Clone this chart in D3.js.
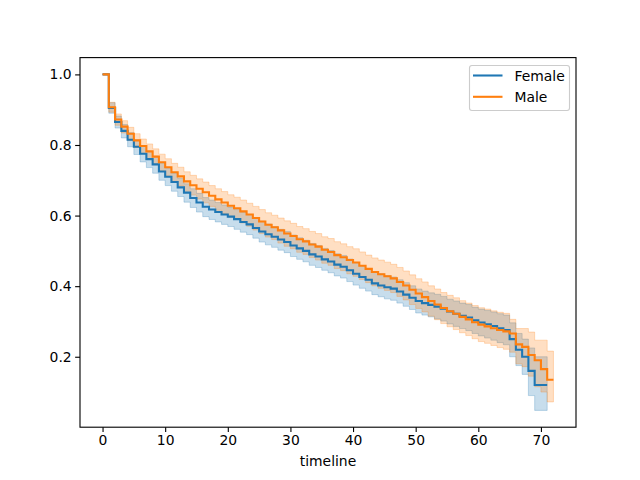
<!DOCTYPE html>
<html>
<head>
<meta charset="utf-8">
<script src="https://cdn.jsdelivr.net/npm/d3@7"></script>
<style>
  body { margin: 0; background: #fff; }
  text { font-family: "DejaVu Sans", sans-serif; }
</style>
</head>
<body>
<div id="chart-container"></div>
<script>
// Kaplan-Meier estimates
const femaleTimes = [0,1,2,3,4,5,6,7,8,9,10,11,12,13,14,15,16,17,18,19,20,21,22,23,24,25,26,27,28,29,30,31,32,33,34,35,36,37,38,39,40,41,42,43,44,45,46,47,48,49,50,51,52,53,54,55,56,57,58,59,60,61,62,63,64,65,66,67,68,69,70,71];
const femaleSurv = [1.0,0.905,0.865,0.84,0.815,0.795,0.775,0.76,0.745,0.725,0.71,0.695,0.68,0.665,0.65,0.637,0.625,0.617,0.61,0.603,0.597,0.59,0.582,0.575,0.565,0.555,0.547,0.54,0.532,0.525,0.515,0.507,0.5,0.49,0.484,0.476,0.47,0.461,0.455,0.445,0.435,0.426,0.418,0.408,0.402,0.397,0.393,0.385,0.376,0.367,0.358,0.352,0.347,0.342,0.336,0.328,0.322,0.316,0.311,0.303,0.297,0.292,0.287,0.281,0.276,0.25,0.22,0.2,0.16,0.12,0.12,0.12];
const femaleLower = [1.0,0.89,0.848,0.82,0.795,0.773,0.752,0.736,0.72,0.70,0.685,0.669,0.654,0.638,0.623,0.61,0.597,0.589,0.582,0.575,0.569,0.561,0.553,0.546,0.536,0.525,0.517,0.51,0.502,0.495,0.484,0.476,0.469,0.459,0.453,0.445,0.438,0.429,0.423,0.413,0.403,0.394,0.386,0.376,0.37,0.364,0.36,0.352,0.343,0.334,0.324,0.318,0.313,0.307,0.301,0.293,0.286,0.28,0.274,0.266,0.259,0.253,0.247,0.24,0.234,0.2,0.175,0.15,0.09,0.048,0.048,0.048];
const femaleUpper = [1.0,0.92,0.882,0.858,0.835,0.815,0.797,0.782,0.768,0.749,0.735,0.72,0.705,0.69,0.676,0.663,0.651,0.644,0.637,0.63,0.624,0.617,0.61,0.603,0.594,0.584,0.576,0.569,0.561,0.555,0.545,0.537,0.53,0.521,0.515,0.507,0.501,0.492,0.487,0.477,0.467,0.458,0.45,0.441,0.435,0.43,0.426,0.418,0.41,0.401,0.392,0.386,0.381,0.377,0.371,0.363,0.358,0.352,0.348,0.34,0.335,0.331,0.327,0.322,0.318,0.296,0.266,0.25,0.225,0.2,0.2,0.2];

const maleTimes = [0,1,2,3,4,5,6,7,8,9,10,11,12,13,14,15,16,17,18,19,20,21,22,23,24,25,26,27,28,29,30,31,32,33,34,35,36,37,38,39,40,41,42,43,44,45,46,47,48,49,50,51,52,53,54,55,56,57,58,59,60,61,62,63,64,65,66,67,68,69,70,71,72];
const maleSurv = [1.0,0.907,0.872,0.852,0.832,0.813,0.797,0.782,0.767,0.751,0.737,0.723,0.711,0.697,0.686,0.676,0.666,0.656,0.646,0.637,0.628,0.621,0.612,0.603,0.593,0.583,0.574,0.567,0.558,0.549,0.542,0.533,0.527,0.518,0.512,0.503,0.497,0.488,0.482,0.474,0.467,0.458,0.449,0.44,0.434,0.428,0.422,0.412,0.402,0.39,0.379,0.369,0.358,0.348,0.338,0.329,0.322,0.313,0.306,0.298,0.291,0.286,0.281,0.276,0.272,0.266,0.235,0.228,0.205,0.19,0.165,0.135,0.135];
const maleLower = [1.0,0.893,0.856,0.834,0.813,0.793,0.776,0.76,0.744,0.727,0.712,0.697,0.684,0.669,0.658,0.647,0.636,0.626,0.615,0.606,0.596,0.589,0.579,0.57,0.559,0.549,0.539,0.532,0.522,0.513,0.506,0.496,0.49,0.481,0.474,0.465,0.459,0.45,0.444,0.435,0.428,0.419,0.41,0.401,0.394,0.388,0.382,0.371,0.361,0.348,0.337,0.327,0.315,0.305,0.294,0.285,0.277,0.268,0.26,0.251,0.243,0.238,0.232,0.226,0.221,0.213,0.18,0.172,0.145,0.115,0.1,0.072,0.072];
const maleUpper = [1.0,0.921,0.888,0.869,0.85,0.832,0.817,0.803,0.789,0.774,0.761,0.748,0.737,0.724,0.714,0.704,0.695,0.685,0.676,0.668,0.659,0.652,0.644,0.635,0.626,0.617,0.608,0.601,0.593,0.585,0.578,0.569,0.563,0.555,0.549,0.54,0.535,0.526,0.52,0.512,0.506,0.497,0.488,0.48,0.474,0.468,0.462,0.453,0.443,0.432,0.421,0.412,0.401,0.392,0.382,0.374,0.367,0.359,0.352,0.345,0.339,0.335,0.33,0.326,0.323,0.306,0.28,0.28,0.27,0.247,0.247,0.216,0.216];

const xTicks = [0, 10, 20, 30, 40, 50, 60, 70];
const yTicks = [0.2, 0.4, 0.6, 0.8, 1.0];

const W = 640, H = 480;
const margin = { top: 57.6, right: 64, bottom: 52.8, left: 80 };

const svg = d3.select("#chart-container").append("svg")
    .attr("width", W)
    .attr("height", H);

const x = d3.scaleLinear().domain([-3.6, 75.6]).range([margin.left, W - margin.right]);
const y = d3.scaleLinear().domain([0.0004, 1.0476]).range([H - margin.bottom, margin.top]);

const groups = [
    { name: "Female", color: "#1f77b4", t: femaleTimes, s: femaleSurv, lo: femaleLower, hi: femaleUpper },
    { name: "Male", color: "#ff7f0e", t: maleTimes, s: maleSurv, lo: maleLower, hi: maleUpper }
];
groups.forEach(g => {
    g.rows = g.t.map((t, i) => ({ t: t, s: g.s[i], lo: g.lo[i], hi: g.hi[i] }));
});

const line = d3.line().curve(d3.curveStepAfter).x(d => x(d.t)).y(d => y(d.s));
const area = d3.area().curve(d3.curveStepAfter).x(d => x(d.t)).y0(d => y(d.lo)).y1(d => y(d.hi));

// bands below, lines on top (like matplotlib zorder)
const bands = svg.append("g");
const lines = svg.append("g");
groups.forEach(g => {
    bands.append("path")
        .attr("d", area(g.rows))
        .attr("fill", g.color)
        .attr("fill-opacity", 0.25)
        .attr("stroke", g.color)
        .attr("stroke-opacity", 0.25)
        .attr("stroke-width", 1);
    lines.append("path")
        .attr("d", line(g.rows))
        .attr("fill", "none")
        .attr("stroke", g.color)
        .attr("stroke-width", 2.08);
});

// axes, matplotlib look
const xAxis = svg.append("g")
    .attr("transform", `translate(0,${H - margin.bottom})`)
    .call(d3.axisBottom(x).tickValues(xTicks).tickSize(4.86).tickPadding(3.5).tickFormat(d3.format("d")));
const yAxis = svg.append("g")
    .attr("transform", `translate(${margin.left},0)`)
    .call(d3.axisLeft(y).tickValues(yTicks).tickSize(4.86).tickPadding(3.5).tickFormat(d3.format(".1f")));

[xAxis, yAxis].forEach(a => {
    a.select(".domain").remove();
    a.selectAll("line").attr("stroke", "#000").attr("stroke-width", 1.11);
    a.selectAll("text").attr("fill", "#000").style("font-size", "13.9px").style("font-family", "DejaVu Sans, sans-serif");
});

svg.append("rect")
    .attr("x", margin.left)
    .attr("y", margin.top)
    .attr("width", W - margin.left - margin.right)
    .attr("height", H - margin.top - margin.bottom)
    .attr("fill", "none")
    .attr("stroke", "#000")
    .attr("stroke-width", 1.11);

svg.append("text")
    .attr("x", (margin.left + W - margin.right) / 2)
    .attr("y", 466)
    .attr("text-anchor", "middle")
    .style("font-size", "13.9px")
    .text("timeline");

// legend
const legend = svg.append("g");
legend.append("rect")
    .attr("x", 469.5).attr("y", 65.5)
    .attr("width", 100).attr("height", 45)
    .attr("rx", 2.5)
    .attr("fill", "#fff").attr("fill-opacity", 0.8)
    .attr("stroke", "#cccccc").attr("stroke-width", 1.11);
groups.forEach((g, i) => {
    const ly = 75.5 + i * 21.3;
    legend.append("line")
        .attr("x1", 473).attr("x2", 502.5)
        .attr("y1", ly).attr("y2", ly)
        .attr("stroke", g.color).attr("stroke-width", 2.08);
    legend.append("text")
        .attr("x", 514.5).attr("y", ly + 5)
        .style("font-size", "13.9px")
        .text(g.name);
});
</script>
</body>
</html>
